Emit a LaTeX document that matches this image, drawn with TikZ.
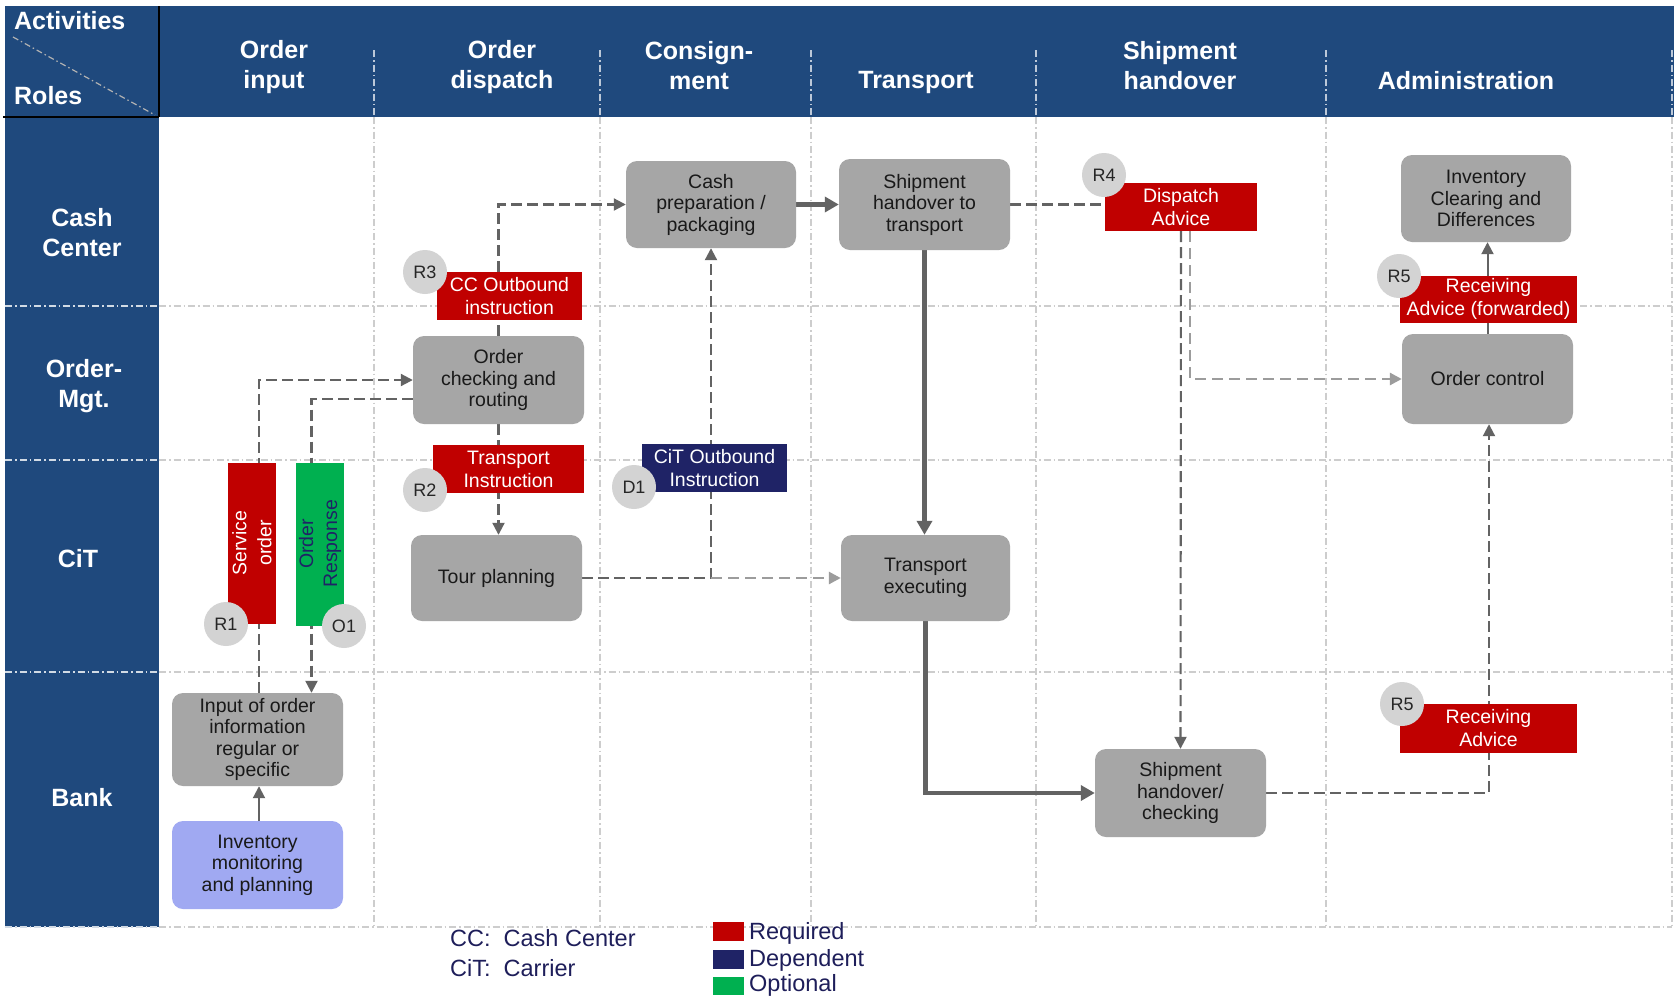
\documentclass[tikz,border=0pt]{standalone}
\usepackage{fontspec}
\setmainfont{Liberation Sans}
\usetikzlibrary{arrows.meta,calc}
\definecolor{hdrblue}{HTML}{1F497D}
\definecolor{reqred}{HTML}{C00000}
\definecolor{optgreen}{HTML}{00B050}
\definecolor{depnavy}{HTML}{1F2366}
\definecolor{boxgray}{HTML}{A6A6A6}
\definecolor{circgray}{HTML}{D3D3D3}
\definecolor{invblue}{HTML}{A0A9F2}
\definecolor{gridgray}{HTML}{CDCDCD}
\definecolor{linegray}{HTML}{636363}
\definecolor{lightline}{HTML}{9C9C9C}
\definecolor{legtext}{HTML}{1E1E5A}
\newcommand\bxfont{\fontsize{19.5}{21.5}\selectfont}
\newcommand\lbfont{\fontsize{19.5}{23}\selectfont}
\newcommand\hdfont{\bfseries\fontsize{25}{30}\selectfont}
\pgfdeclarelayer{gridlayer}
\pgfdeclarelayer{linelayer}
\pgfsetlayers{gridlayer,linelayer,main}
\begin{document}
\begin{tikzpicture}[x=1pt,y=-1pt,
  hdr/.style={text=white, font=\hdfont, align=center, inner sep=0pt},
  proc/.style={fill=boxgray, rounded corners=11pt, align=center, font=\bxfont, inner sep=0pt, text=black!90},
  lab/.style={fill=reqred, text=white, align=center, font=\lbfont, inner sep=0pt},
  circ/.style={circle, fill=circgray, minimum size=44pt, inner sep=0pt, font=\fontsize{18}{20}\selectfont, text=black!85},
  gridline/.style={draw=gridgray, line width=1.2pt, dash pattern=on 7pt off 3pt on 1.5pt off 3pt},
  hdrsep/.style={draw=white!70!hdrblue, line width=1.2pt, dash pattern=on 7pt off 3pt on 1.5pt off 3pt},
  rowsep/.style={draw=white!80!hdrblue, line width=1.2pt, dash pattern=on 7pt off 3pt on 1.5pt off 3pt},
  thickarr/.style={draw=linegray, line width=4.5pt, -{Triangle[length=14pt,width=15pt]}},
  dashln/.style={draw=linegray, line width=2.1pt, dash pattern=on 11pt off 5pt},
  dasharr/.style={dashln, -{Triangle[length=12pt,width=12pt]}},
  lightdash/.style={draw=lightline, line width=2.8pt, dash pattern=on 11pt off 6pt},
  thinarr/.style={draw=linegray, line width=2pt, -{Triangle[length=12pt,width=12pt]}},
  legsq/.style={minimum width=31pt, minimum height=19pt, inner sep=0pt},
  legtxt/.style={text=legtext, font=\fontsize{23.5}{28}\selectfont, inner sep=0pt, anchor=west}
]
\useasboundingbox (0,0) rectangle (1674,997);

% background, header and grid
\begin{pgfonlayer}{gridlayer}
\fill[white] (0,0) rectangle (1674,997);
\fill[hdrblue] (5,6) rectangle (1674,117);
\fill[hdrblue] (5,117) rectangle (159,927);
\foreach \x in {374,600,811,1036,1326,1672} {
  \draw[hdrsep] (\x,50) -- (\x,117);
  \draw[gridline] (\x,117) -- (\x,927);
}
\foreach \y in {306,460,672,927} {
  \draw[rowsep] (5,\y) -- (159,\y);
  \draw[gridline] (159,\y) -- (1672,\y);
}
\draw[black, line width=1.5pt] (159,6) -- (159,117);
\draw[black, line width=1.5pt] (3,117) -- (159,117);
\draw[draw=gray!60, line width=1.2pt, dash pattern=on 6pt off 3pt on 1.5pt off 3pt] (13,37) -- (155,115);
\end{pgfonlayer}

% header labels
\node[hdr, anchor=west] (hact) at (14,21) {Activities};
\node[hdr, anchor=west] (hrol) at (14,96) {Roles};
\node[hdr] (hc1) at (274,67) {Order\\input};
\node[hdr] (hc2) at (502,67) {Order\\dispatch};
\node[hdr] (hc3) at (699,66) {Consign-\\ment};
\node[hdr] (hc4) at (916,82) {Transport};
\node[hdr] (hc5) at (1180,66) {Shipment\\handover};
\node[hdr] (hc6) at (1466,81) {Administration};
\node[hdr] (hr1) at (82,233) {Cash\\Center};
\node[hdr] (hr2) at (84,386) {Order-\\Mgt.};
\node[hdr] (hr3) at (78,559) {CiT};
\node[hdr] (hr4) at (82,798) {Bank};

% process boxes
\node[proc, minimum width=170pt, minimum height=87pt] (cashprep) at (711,204.5) {Cash\\preparation /\\packaging};
\node[proc, minimum width=171pt, minimum height=91pt] (shipto) at (924.5,204.5) {Shipment\\handover to\\transport};
\node[proc, minimum width=170pt, minimum height=87pt] (invclear) at (1486,198.5) {Inventory\\Clearing and\\Differences};
\node[proc, minimum width=171pt, minimum height=88pt] (ordercheck) at (498.5,380) {Order\\checking and\\routing};
\node[proc, minimum width=171pt, minimum height=90pt] (ordercontrol) at (1487.5,379) {Order control};
\node[proc, minimum width=171pt, minimum height=86pt] (tour) at (496.5,578) {Tour planning};
\node[proc, minimum width=169pt, minimum height=86pt] (transexec) at (925.5,578) {Transport\\executing};
\node[proc, minimum width=171pt, minimum height=93pt] (inputorder) at (257.5,739.5) {Input of order\\information\\regular or\\specific};
\node[proc, fill=invblue, minimum width=171pt, minimum height=88pt] (invmon) at (257.5,865) {Inventory\\monitoring\\and planning};
\node[proc, minimum width=171pt, minimum height=88pt] (shipcheck) at (1180.5,793) {Shipment\\handover/\\checking};

% message labels
\node[lab, minimum width=145pt, minimum height=48pt] (cco) at (509.5,296) {CC Outbound\\instruction};
\node[lab, minimum width=151pt, minimum height=48pt] (tri) at (508.5,469) {Transport\\Instruction};
\node[lab, minimum width=152pt, minimum height=48pt] (disp) at (1181,207) {Dispatch\\Advice};
\node[lab, minimum width=177pt, minimum height=47pt] (recfw) at (1488.5,299) {Receiving\\Advice (forwarded)};
\node[lab, minimum width=177pt, minimum height=49pt] (rec) at (1488.5,728) {Receiving\\Advice};
\node[lab, fill=depnavy, minimum width=145pt, minimum height=48pt] (cito) at (714.5,468) {CiT Outbound\\Instruction};
\node[lab, rotate=90, minimum width=161pt, minimum height=48pt, font=\fontsize{19.5}{25}\selectfont] (svc) at (252,543) {Service\\order};
\node[lab, fill=optgreen, text=depnavy, rotate=90, minimum width=163pt, minimum height=48pt, font=\fontsize{19.5}{24}\selectfont] (ordresp) at (320,544) {Order\\Response};

% badges
\node[circ] (r3) at (425,272) {R3};
\node[circ] (r2) at (425,490) {R2};
\node[circ] (r1) at (226,624) {R1};
\node[circ] (o1) at (344,626) {O1};
\node[circ] (d1) at (634,487) {D1};
\node[circ] (r4) at (1104,175) {R4};
\node[circ] (r5a) at (1399,276) {R5};
\node[circ] (r5b) at (1402,704) {R5};

% connectors
\begin{pgfonlayer}{linelayer}
\draw[dasharr] ([xshift=1.5pt]inputorder.north) |- (ordercheck.west);
\draw[dasharr] ([yshift=-19pt]ordercheck.west) -| ([xshift=54pt]inputorder.north);
\draw[thinarr] ([xshift=1.5pt]invmon.north) -- ([xshift=1.5pt]inputorder.south);
\draw[dasharr] (ordercheck.north) |- (cashprep.west);
\draw[dasharr] (ordercheck.south) -- (ordercheck.south |- tour.north);
\coordinate (jn) at (cashprep.south |- tour.east);
\draw[dasharr] (tour.east) -- (jn) -- (cashprep.south);
\draw[lightdash, -{Triangle[length=12pt,width=12pt]}] (jn) -- (transexec.west);
\draw[thickarr] (cashprep.east) -- (shipto.west);
\draw[thickarr] (shipto.south) -- (shipto.south |- transexec.north);
\draw[thickarr] (transexec.south) |- (shipcheck.west);
\draw[dashln] (shipto.east) -- (shipto.east -| disp.west);
\draw[dasharr] (disp.south) -- (shipcheck.north);
\draw[lightdash, -{Triangle[length=12pt,width=12pt]}] ([xshift=9pt]disp.south) |- (ordercontrol.west);
\draw[dasharr] (shipcheck.east) -| ([xshift=1.5pt]ordercontrol.south);
\draw[thinarr] (ordercontrol.north) -- (ordercontrol.north |- invclear.south);
\end{pgfonlayer}

% legend
\node[legtxt] (abbr1) at (450,938) {CC:\ \ Cash Center};
\node[legtxt] (abbr2) at (450,968) {CiT:\ \ Carrier};
\node[legsq, fill=reqred] (lreq) at (728.5,931.5) {};
\node[legsq, fill=depnavy] (ldep) at (728.5,959.5) {};
\node[legsq, fill=optgreen, minimum height=18pt] (lopt) at (728.5,986) {};
\node[legtxt] (treq) at (749,933) {Required};
\node[legtxt] (tdep) at (749,960) {Dependent};
\node[legtxt] (topt) at (749,985) {Optional};
\end{tikzpicture}
\end{document}
